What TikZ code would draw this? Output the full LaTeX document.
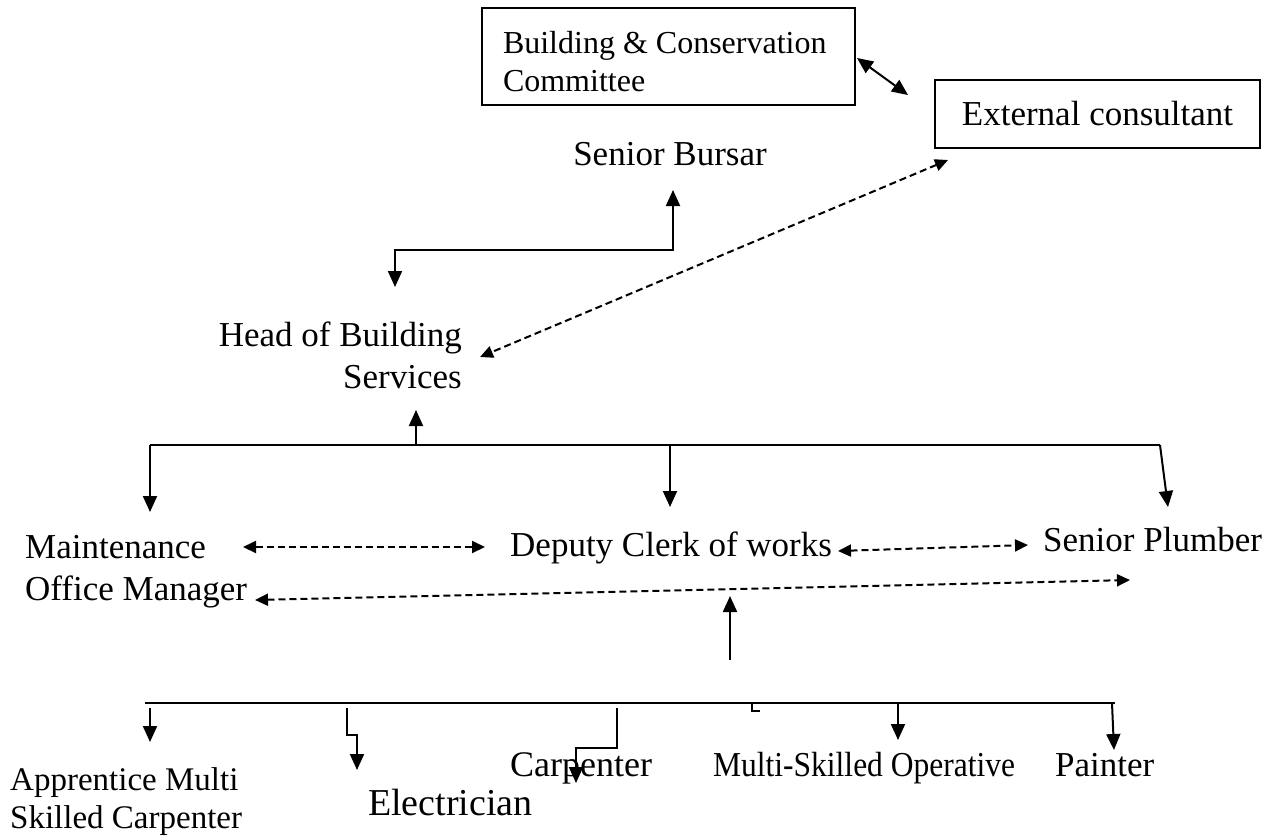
\documentclass[tikz,border=0pt]{standalone}
\usepackage{fontspec}
\setmainfont{Liberation Serif}
\newfontfamily\narrowfont[FakeStretch=0.9]{Liberation Serif}
\usetikzlibrary{arrows.meta}
\begin{document}
\begin{tikzpicture}[x=1pt,y=-1pt,
  lbl/.style={inner sep=0pt, font=\fontsize{35}{42}\selectfont},
  smalllbl/.style={inner sep=0pt, font=\fontsize{33}{38}\selectfont},
  box/.style={draw, line width=1.6pt, inner sep=0pt},
  tip/.tip={Triangle[width=14pt,length=16pt]},
  dtip/.tip={Triangle[width=12pt,length=13pt]},
  link/.style={line width=2pt, -tip},
  plain/.style={line width=2pt},
  twoway/.style={line width=2pt, tip-tip},
  dlink/.style={line width=2pt, dash pattern=on 7pt off 4pt, dtip-dtip}
]
\useasboundingbox (0,0) rectangle (1270,836);

% top boxes
\node[box, minimum width=373pt, minimum height=97pt, font=\fontsize{32}{38}\selectfont] (bcc) at (668.5,56.5)
  {\raisebox{-5pt}[\height][\depth]{\parbox[c]{331pt}{Building \& Conservation\\Committee}}};
\node[box, minimum width=325pt, minimum height=68pt, font=\fontsize{35}{42}\selectfont] (ext) at (1097.5,114) {External consultant};

% labels
\node[lbl, anchor=base] (sb) at (670,165) {Senior Bursar};
\node[lbl, align=right, anchor=base east] (hbs) at (462,388) {Head of Building\\Services};
\node[lbl, align=left, anchor=base west] (mom) at (25,600) {Maintenance\\Office Manager};
\node[lbl, anchor=base west] (dcw) at (510,556) {Deputy Clerk of works};
\node[lbl, anchor=base west] (sp) at (1043,551) {Senior Plumber};
\node[smalllbl, align=left, anchor=base west] (amsc) at (10,828) {Apprentice Multi\\Skilled Carpenter};
\node[lbl, font=\fontsize{38}{42}\selectfont, anchor=base west] (el) at (368,815) {Electrician};
\node[lbl, font=\fontsize{36}{42}\selectfont, anchor=base west] (cp) at (510,776) {Carpenter};
\node[lbl, font=\fontsize{35}{42}\narrowfont, anchor=base west] (mso) at (713,776) {Multi-Skilled Operative};
\node[lbl, anchor=base west] (pt) at (1055,776) {Painter};

% connector points
\coordinate (bccR) at (857,58);
\coordinate (extL) at (908,95);
\coordinate (sbB) at (673,190);
\coordinate (hbsT) at (395,287);
\coordinate (extB) at (948,160);
\coordinate (hbsR) at (480,357);
\coordinate (hbsB) at (416,410);
\coordinate (busA) at (416,445);
\coordinate (busL) at (150,445);
\coordinate (busM) at (670,445);
\coordinate (busR) at (1160,445);
\coordinate (momT) at (150,512);
\coordinate (dcwT) at (670,507);
\coordinate (spT) at (1168,507);
\coordinate (momR) at (243,547);
\coordinate (dcwL) at (485,547);
\coordinate (dcwR) at (838,551);
\coordinate (spL) at (1028,545);
\coordinate (momR2) at (255,600);
\coordinate (spB) at (1130,580);
\coordinate (upS) at (730,660);
\coordinate (upT) at (730,596);
\coordinate (bus2L) at (145,703);
\coordinate (bus2R) at (1115,703);

% Building committee <-> consultant
\draw[twoway] (bccR) -- (extL);
% Senior Bursar <-> Head of Building Services
\draw[twoway] (sbB) -- (673,250) -- (395,250) -- (hbsT);
% consultant <-> head
\draw[dlink] (extB) -- (hbsR);

% upper bus
\draw[plain] (busL) -- (busR);
\draw[link] (busA) -- (hbsB);
\draw[link] (busL) -- (momT);
\draw[link] (busM) -- (dcwT);
\draw[link] (busR) -- (spT);

% peer links
\draw[dlink] (momR) -- (dcwL);
\draw[dlink] (dcwR) -- (spL);
\draw[dlink] (momR2) -- (spB);
\draw[link] (upS) -- (upT);

% lower bus
\draw[plain] (bus2L) -- (bus2R);
\draw[line width=1.3pt] (752,703) -- (752,711) -- (760,711);
\draw[link] (150,708) -- (150,742);
\draw[link] (347,708) -- (347,735) -- (357,735) -- (357,770);
\draw[link] (617,708) -- (617,748) -- (576,748) -- (576,783);
\draw[link] (898,703) -- (898,740);
\draw[link] (1112,703) -- (1114,750);
\end{tikzpicture}
\end{document}
